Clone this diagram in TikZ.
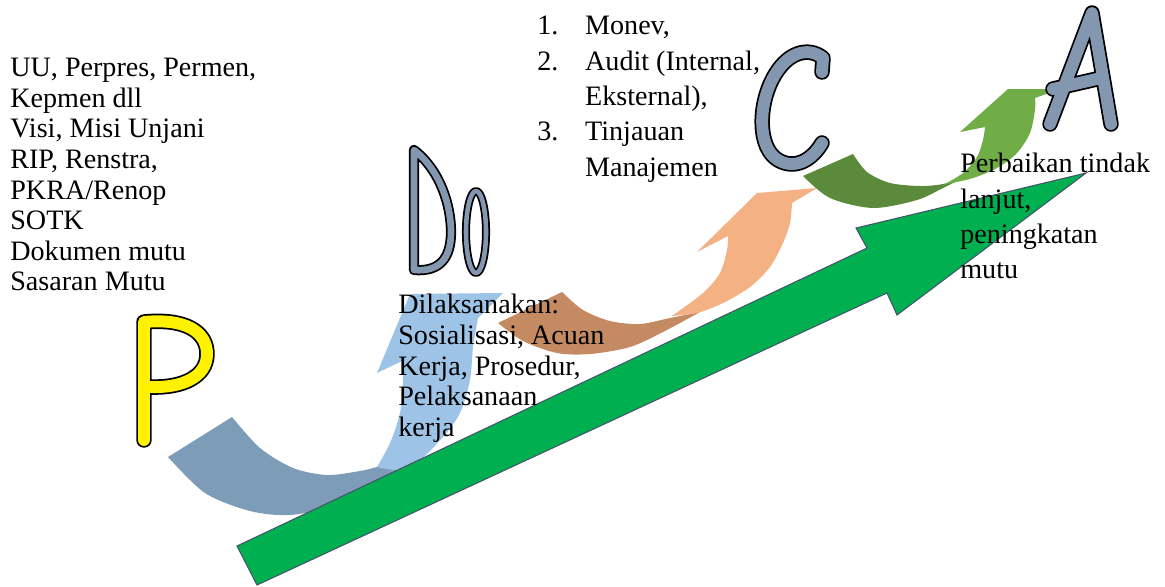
\documentclass[tikz,border=0pt]{standalone}
\usepackage{fontspec}
\setmainfont{Liberation Serif}

\definecolor{verdeseta}{HTML}{00B050}
\definecolor{bordaseta}{HTML}{44546A}
\definecolor{letracinza}{HTML}{8497B0}
\definecolor{azulescuro}{HTML}{7C9CB8}
\definecolor{azulclaro}{HTML}{9DC3E6}
\definecolor{marrom}{HTML}{C48B63}
\definecolor{laranja}{HTML}{F4B183}
\definecolor{verdeescuro}{HTML}{5A8A3A}
\definecolor{verdeclaro}{HTML}{70AD47}

\begin{document}
\begin{tikzpicture}[x=0.02cm, y=-0.02cm,
    letra/.style={draw=black, line width=1pt, double=#1, line cap=round, line join=round},
    texto/.style={inner sep=0pt, anchor=north west, align=left, font=\fontsize{16}{17.4}\selectfont},
    textolargo/.style={texto, font=\fontsize{16}{20.1}\selectfont}]

    \useasboundingbox (0,0) rectangle (1165,586);

    % Seta curva P -> Do (parte escura e parte clara)
    \fill[azulescuro] plot[smooth] coordinates {(168,457) (205,493) (250,511) (290,515) (335,506) (375,490) (420,466)}
        -- plot[smooth] coordinates {(420,466) (395,463) (377,467) (360,471) (327,475) (293,468) (260,448) (232,417)} -- cycle;
    \fill[azulclaro] plot[smooth] coordinates {(377,467) (390,443) (400,413) (403,380) (402,361)}
        -- (377,373) -- (410,294) -- (503,293) -- (478,318)
        -- plot[smooth] coordinates {(478,318) (473,347) (470,380) (460,413) (443,437) (420,460) (400,470) (377,467)} -- cycle;

    % Seta curva Do -> C
    \fill[marrom] plot[smooth] coordinates {(498,323) (523,341) (557,353) (590,354) (630,347) (663,332) (700,312)}
        -- plot[smooth] coordinates {(700,312) (670,318) (640,324) (610,321) (583,310) (562,292)} -- cycle;
    \fill[laranja] plot[smooth] coordinates {(672,316) (703,293) (720,273) (727,250) (728,236)}
        -- (697,252) -- (757,193) -- (817,188) -- (792,203)
        -- plot[smooth] coordinates {(792,203) (790,223) (783,243) (770,267) (750,287) (723,303) (697,313) (672,316)} -- cycle;

    % Seta curva C -> A
    \fill[verdeescuro] plot[smooth] coordinates {(803,176) (830,198) (873,208) (917,200) (943,188) (965,177)}
        -- plot[smooth] coordinates {(965,177) (943,184) (920,186) (890,183) (867,172) (853,154)} -- cycle;
    \fill[verdeclaro] plot[smooth] coordinates {(943,185) (963,173) (977,157) (983,140) (985,127)}
        -- (960,132) -- (1008,89) -- (1060,89) -- (1035,98)
        -- plot[smooth] coordinates {(1035,98) (1035,110) (1030,133) (1017,153) (997,168) (973,178) (943,185)} -- cycle;

    % Letras P, Do, C, A
    \draw[letra=yellow, double distance=6.8pt] (144,440) -- (144,322)
        .. controls (186,318) and (207,332) .. (207,354)
        .. controls (207,377) and (182,388) .. (151,387);
    \draw[letra=letracinza, double distance=3.8pt] (414,270) -- (414,150)
        .. controls (440,170) and (451,205) .. (451,232)
        .. controls (451,258) and (440,272) .. (414,270) -- cycle;
    \draw[letra=letracinza, double distance=2.6pt] (476,232) ellipse [x radius=10, y radius=41];
    \draw[letra=letracinza, double distance=6.8pt] (822,72) -- (823,58)
        .. controls (808,46) and (786,52) .. (772,80)
        .. controls (758,108) and (758,148) .. (778,160)
        .. controls (795,170) and (812,160) .. (822,143);
    \draw[letra=letracinza, double distance=6.8pt] (1050,124) -- (1092,13) -- (1111,124)
        (1053,89) -- (1101,78);

    % Seta grande
    \coordinate (ponta) at (1086,173);
    \filldraw[fill=verdeseta, draw=bordaseta, line width=0.6pt] (237,546) -- (867,248) -- (856,228)
        -- (ponta) -- (897,315) -- (887,293) -- (257,585) -- cycle;

    % Textos
    \node[texto] (plan) at (10,58) {UU, Perpres, Permen,\\Kepmen dll\\Visi, Misi Unjani\\RIP, Renstra,\\PKRA/Renop\\SOTK\\Dokumen mutu\\Sasaran Mutu};
    \node[texto] (do) at (398,294) {Dilaksanakan:\\Sosialisasi, Acuan\\Kerja, Prosedur,\\Pelaksanaan\\kerja};
    \node[textolargo] (check) at (537,16) {\makebox[27.2pt][l]{1.}Monev,\\\makebox[27.2pt][l]{2.}Audit (Internal,\\\hspace*{27.2pt}Eksternal),\\\makebox[27.2pt][l]{3.}Tinjauan\\\hspace*{27.2pt}Manajemen};
    \node[textolargo] (act) at (960,153) {Perbaikan tindak\\lanjut,\\peningkatan\\mutu};

\end{tikzpicture}
\end{document}
